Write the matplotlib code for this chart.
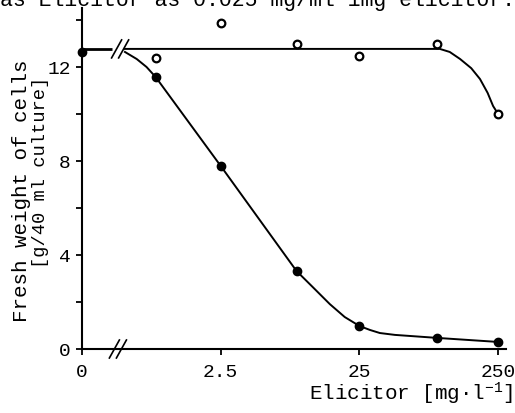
import matplotlib
matplotlib.use("Agg")
import matplotlib.pyplot as plt
import matplotlib.transforms as mtransforms

# values; the "0" dose sits at the axis origin
elicitor = [0, 0.85, 2.5, 8.8, 25, 90, 250]
weight_filled = [12.65, 11.57, 7.79, 3.32, 0.98, 0.47, 0.30]

elicitor_open = [0.85, 2.5, 8.8, 25, 90, 250]
weight_open = [12.38, 13.87, 13.0, 12.47, 13.0, 10.0]

# hand-drawn curves
curve_filled_x = [0.51, 0.62, 0.73, 0.85, 2.5, 8.8, 11.5, 15.3, 19.6, 25, 29.8, 35.1, 45.1, 92, 250]
curve_filled_y = [12.64, 12.34, 12.0, 11.57, 7.79, 3.32, 2.64, 1.91, 1.36, 0.98, 0.81, 0.68, 0.60, 0.47, 0.30]
curve_open_x = [0.51, 95, 112, 133, 160, 185, 210, 230, 250]
curve_open_y = [12.77, 12.77, 12.64, 12.34, 11.95, 11.49, 10.9, 10.34, 10.0]
plateau = 12.77

x_ticks = [0.25, 2.5, 25, 250]
x_ticklabels = ["0", "2.5", "25", "250"]
y_ticks = [0, 2, 4, 6, 8, 10, 12, 14]
y_ticklabels = ["0", "", "4", "", "8", "", "12", ""]

X0 = 0.25  # where the zero dose is drawn (left of the axis break)

plt.rcParams["font.family"] = ["Liberation Mono", "DejaVu Sans Mono"]
plt.rcParams["mathtext.fontset"] = "custom"
plt.rcParams["mathtext.rm"] = "Liberation Mono"
plt.rcParams["mathtext.it"] = "Liberation Mono"

fig = plt.figure(figsize=(5.15, 4.14), dpi=100)
ax = fig.add_axes([82 / 515, 1 - 350 / 414, 424 / 515, 340.75 / 414])

ax.set_xscale("log")
ax.set_xlim(0.25, 285)
ax.set_ylim(0, 14.5)

lw = 1.4
# segment before the break
ax.plot([X0, 0.41], [plateau, plateau], color="black", lw=2.0, solid_capstyle="butt")
ax.plot(curve_open_x, curve_open_y, color="black", lw=lw)
ax.plot(curve_filled_x, curve_filled_y, color="black", lw=lw)

xs = [X0 if v == 0 else v for v in elicitor]
ax.plot(xs, weight_filled, "o", color="black", ms=6, zorder=3, clip_on=False)
ax.plot(elicitor_open, weight_open, "o", mfc="white", mec="black", mew=1.6, ms=5.5, zorder=3)


def slash(x, y):
    # a short slanted stroke centred on a data point, size in pixels
    t = fig.dpi_scale_trans + mtransforms.ScaledTranslation(x, y, ax.transData)
    d = 1 / 100
    ax.plot([-5 * d, 5 * d], [-9 * d, 9 * d], color="black", lw=1.2,
            transform=t, clip_on=False, zorder=4)


for bx in [0.444, 0.499]:
    slash(bx, plateau)
for bx in [0.428, 0.481]:
    slash(bx, 0)

for side in ["top", "right"]:
    ax.spines[side].set_visible(False)
for side in ["left", "bottom"]:
    ax.spines[side].set_linewidth(1.5)

ax.set_xticks(x_ticks)
ax.set_xticklabels(x_ticklabels)
ax.xaxis.set_minor_locator(matplotlib.ticker.NullLocator())
ax.set_yticks(y_ticks)
ax.set_yticklabels(y_ticklabels)
ax.tick_params(axis="both", direction="out", length=4, width=1.3, labelsize=14)
ax.tick_params(axis="x", pad=6)
ax.tick_params(axis="y", pad=4)

fig.text(22 / 515, 1 - 191 / 414, "Fresh weight of cells", rotation=90,
         ha="center", va="center", fontsize=15)
fig.text(41 / 515, 1 - 172 / 414, "[g/40 ml culture]", rotation=90,
         ha="center", va="center", fontsize=13.5)
fig.text(513 / 515, 1 - 400 / 414, r"Elicitor [mg·l$^{-1}$]", ha="right",
         va="baseline", fontsize=15)

fig.text(0.0, 1 - 6 / 414, "as Elicitor as 0.025 mg/ml 1mg elicitor.",
         ha="left", va="baseline", fontsize=15.5)

fig.savefig("out.png", dpi=100)
